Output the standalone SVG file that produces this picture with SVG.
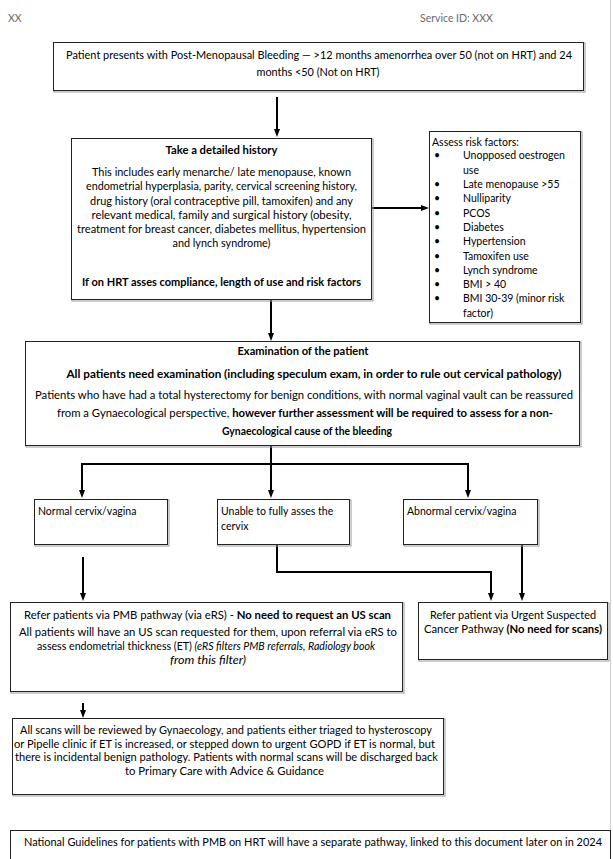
<svg xmlns="http://www.w3.org/2000/svg" width="613" height="859" viewBox="0 0 613 859">
<defs>
<marker id="arr" viewBox="0 0 8 6" refX="5" refY="3" markerWidth="8" markerHeight="6" markerUnits="userSpaceOnUse" orient="auto">
<path d="M0,0 L8,3 L0,6 z" fill="#000"/>
</marker>
</defs>
<style>
.box{fill:#fff;stroke:#222;stroke-width:1}
.sh{fill:none;stroke:#9a9a9a;stroke-width:1}
.t{font-family:Lato,"Liberation Sans",Arial,sans-serif;font-size:10.8px;fill:#000}
.c{text-anchor:middle}
.b{font-weight:bold}
.i{font-style:italic}
.h{fill:#6a6a6a;font-size:10.5px}
.s{font-size:10.5px}
.cn{fill:none;stroke:#000;stroke-width:2}
.cm{marker-end:url(#arr)}
</style>
<rect width="613" height="859" fill="#fff"/>
<line x1="610.5" y1="0" x2="610.5" y2="859" stroke="#cfcfcf" stroke-width="1"/>
<g id="header">
<text class="t h" x="8" y="21.5">XX</text>
<text class="t h" x="420" y="21.5">Service ID: XXX</text>
</g>
<g id="connectors">
<path class="cn cm" d="M277,97 V134"/>
<path class="cn cm" d="M372,208 H426"/>
<path class="cn cm" d="M271,300 V338"/>
<path class="cn cm" d="M271,446 V495"/>
<path class="cn" d="M82,464 H468"/>
<path class="cn cm" d="M82,463 V495"/>
<path class="cn cm" d="M468,463 V495"/>
<path class="cn cm" d="M83,557 V598"/>
<path class="cn cm" d="M277,545 V572 H491 V598"/>
<path class="cn cm" d="M522,545 V598"/>
<path class="cn cm" d="M83,703 V715"/>
</g>
<g id="n-presents">
<rect class="sh" x="54" y="43" width="531" height="49"/>
<rect class="box" x="53.5" y="42.5" width="530" height="48"/>
<text class="t c" x="319" y="58.5" textLength="506" lengthAdjust="spacingAndGlyphs">Patient presents with Post-Menopausal Bleeding — &gt;12 months amenorrhea over 50 (not on HRT) and 24</text>
<text class="t c" x="318" y="75.5" textLength="123" lengthAdjust="spacingAndGlyphs">months &lt;50 (Not on HRT)</text>
</g>
<g id="n-history">
<rect class="sh" x="72" y="139" width="301" height="162"/>
<rect class="box" x="71.5" y="138.5" width="300" height="161"/>
<text class="t c b" x="221.5" y="153.5" textLength="112" lengthAdjust="spacingAndGlyphs">Take a detailed history</text>
<text class="t c" x="221.5" y="176.2" textLength="259" lengthAdjust="spacingAndGlyphs">This includes early menarche/ late menopause, known</text>
<text class="t c" x="221.5" y="190.2" textLength="271" lengthAdjust="spacingAndGlyphs">endometrial hyperplasia, parity, cervical screening history,</text>
<text class="t c" x="221.5" y="204.5" textLength="263" lengthAdjust="spacingAndGlyphs">drug history (oral contraceptive pill, tamoxifen) and any</text>
<text class="t c" x="221.5" y="218.5" textLength="260" lengthAdjust="spacingAndGlyphs">relevant medical, family and surgical history (obesity,</text>
<text class="t c" x="221.5" y="232.5" textLength="289" lengthAdjust="spacingAndGlyphs">treatment for breast cancer, diabetes mellitus, hypertension</text>
<text class="t c" x="221.5" y="246.5" textLength="98" lengthAdjust="spacingAndGlyphs">and lynch syndrome)</text>
<text class="t c b" x="221.5" y="285.5" textLength="279" lengthAdjust="spacingAndGlyphs">If on HRT asses compliance, length of use and risk factors</text>
</g>
<g id="n-risk">
<rect class="sh" x="430" y="132" width="152" height="192"/>
<rect class="box" x="429.5" y="131.5" width="151" height="191"/>
<text class="t s" x="432" y="146">Assess risk factors:</text>
<g class="t s">
<text x="434" y="159">•</text><text x="463" y="159">Unopposed oestrogen</text>
<text x="463" y="173.5">use</text>
<text x="434" y="188">•</text><text x="463" y="188">Late menopause &gt;55</text>
<text x="434" y="202">•</text><text x="463" y="202">Nulliparity</text>
<text x="434" y="216.5">•</text><text x="463" y="216.5">PCOS</text>
<text x="434" y="231">•</text><text x="463" y="231">Diabetes</text>
<text x="434" y="245">•</text><text x="463" y="245">Hypertension</text>
<text x="434" y="259.5">•</text><text x="463" y="259.5">Tamoxifen use</text>
<text x="434" y="273.5">•</text><text x="463" y="273.5">Lynch syndrome</text>
<text x="434" y="288">•</text><text x="463" y="288">BMI &gt; 40</text>
<text x="434" y="302">•</text><text x="463" y="302">BMI 30-39 (minor risk</text>
<text x="463" y="316.5">factor)</text>
</g>
</g>
<g id="n-exam">
<rect class="sh" x="26" y="342" width="555" height="105"/>
<rect class="box" x="25.5" y="341.5" width="554" height="104"/>
<text class="t c b" x="303" y="354.5" textLength="131" lengthAdjust="spacingAndGlyphs">Examination of the patient</text>
<text class="t c b" x="314" y="377.5" textLength="495" lengthAdjust="spacingAndGlyphs">All patients need examination (including speculum exam, in order to rule out cervical pathology)</text>
<text class="t c" x="304" y="398.5" textLength="538" lengthAdjust="spacingAndGlyphs">Patients who have had a total hysterectomy for benign conditions, with normal vaginal vault can be reassured</text>
<text class="t c" x="305" y="416.5" textLength="496" lengthAdjust="spacingAndGlyphs">from a Gynaecological perspective, <tspan class="b">however further assessment will be required to assess for a non-</tspan></text>
<text class="t c b" x="307" y="434.5" textLength="170" lengthAdjust="spacingAndGlyphs">Gynaecological cause of the bleeding</text>
</g>
<g id="n-normal">
<rect class="sh" x="35" y="500" width="134" height="46"/>
<rect class="box" x="34.5" y="499.5" width="133" height="45"/>
<text class="t s" x="38" y="514.5">Normal cervix/vagina</text>
</g>
<g id="n-unable">
<rect class="sh" x="218" y="500" width="133" height="46"/>
<rect class="box" x="217.5" y="499.5" width="132" height="45"/>
<text class="t s" x="221" y="514.5">Unable to fully asses the</text>
<text class="t s" x="221" y="529.5">cervix</text>
</g>
<g id="n-abnormal">
<rect class="sh" x="404" y="500" width="135" height="46"/>
<rect class="box" x="403.5" y="499.5" width="134" height="45"/>
<text class="t s" x="407" y="514.5">Abnormal cervix/vagina</text>
</g>
<g id="n-pmb">
<rect class="sh" x="11" y="603" width="393" height="90"/>
<rect class="box" x="10.5" y="602.5" width="392" height="89"/>
<text class="t c" x="207.5" y="618.5" textLength="367" lengthAdjust="spacingAndGlyphs">Refer patients via PMB pathway (via eRS)  - <tspan class="b">No need to request an US scan</tspan></text>
<text class="t c" x="208" y="635.5" textLength="378" lengthAdjust="spacingAndGlyphs">All patients will have an US scan requested for them, upon referral via eRS to</text>
<text class="t c" x="206" y="649.5" textLength="338" lengthAdjust="spacingAndGlyphs">assess endometrial thickness (ET) <tspan class="i">(eRS filters PMB referrals, Radiology book</tspan></text>
<text class="t c i" x="208" y="663.5" textLength="76" lengthAdjust="spacingAndGlyphs">from this filter)</text>
</g>
<g id="n-urgent">
<rect class="sh" x="419" y="603" width="190" height="58"/>
<rect class="box" x="418.5" y="602.5" width="189" height="57"/>
<text class="t c" x="513" y="618.5" textLength="166" lengthAdjust="spacingAndGlyphs">Refer patient via Urgent Suspected</text>
<text class="t c" x="513" y="632.5" textLength="178" lengthAdjust="spacingAndGlyphs">Cancer Pathway  <tspan class="b">(No need for scans)</tspan></text>
</g>
<g id="n-review">
<rect class="sh" x="13" y="719" width="432" height="77"/>
<rect class="box" x="12.5" y="718.5" width="431" height="76"/>
<text class="t c" x="226" y="733.5" textLength="412" lengthAdjust="spacingAndGlyphs">All scans will be reviewed by Gynaecology, and patients either triaged to hysteroscopy</text>
<text class="t c" x="224.5" y="747.5" textLength="421" lengthAdjust="spacingAndGlyphs">or Pipelle clinic if ET is increased, or stepped down to urgent GOPD if ET is normal, but</text>
<text class="t c" x="226.5" y="761" textLength="423" lengthAdjust="spacingAndGlyphs">there is incidental benign pathology. Patients with normal scans will be discharged back</text>
<text class="t c" x="224.5" y="775" textLength="199" lengthAdjust="spacingAndGlyphs">to  Primary Care with Advice &amp; Guidance</text>
</g>
<g id="n-national">
<rect class="box" x="10.5" y="830.5" width="600" height="40"/>
<text class="t c" x="313" y="845.5" textLength="578" lengthAdjust="spacingAndGlyphs">National Guidelines for patients with PMB on HRT will have a separate pathway, linked to this document later on in 2024</text>
</g>
</svg>
